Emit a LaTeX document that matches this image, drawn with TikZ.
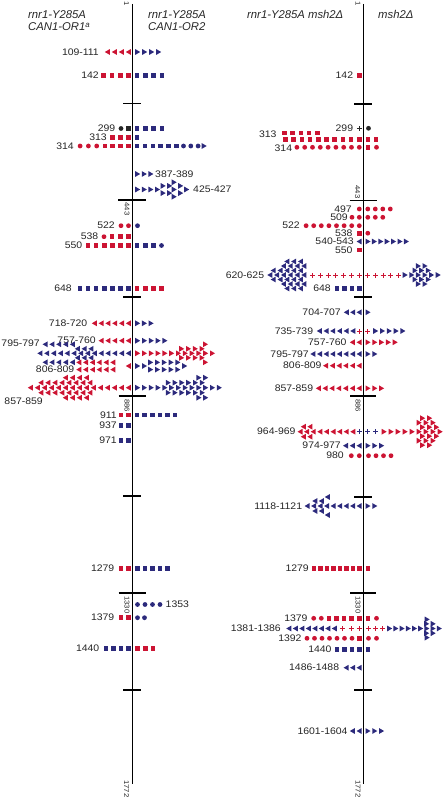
\documentclass[tikz,border=0pt]{standalone}
\usepackage{fontspec}
\setmainfont{Liberation Sans}
\newfontfamily\numfont{Liberation Sans}[FakeStretch=1.1]
\usetikzlibrary{calc}
\definecolor{cRED}{HTML}{CC1433}
\definecolor{cBLU}{HTML}{2C2A7C}
\definecolor{cDRK}{HTML}{262626}
\newcommand{\mrow}[6]{\foreach \i in {1,...,#5}{\pic[#2] at ({#3+(\i-1)*(#6)},#4) {#1};}}
\tikzset{
  mksq/.pic={\fill (-2.3pt,-2.3pt) rectangle (2.3pt,2.3pt);},
  mkci/.pic={\fill (0pt,0pt) circle (2.4pt);},
  mktl/.pic={\fill (-2.7pt,0pt) -- (2.3pt,-2.9pt) -- (2.3pt,2.9pt) -- cycle;},
  mktr/.pic={\fill (2.7pt,0pt) -- (-2.3pt,-2.9pt) -- (-2.3pt,2.9pt) -- cycle;},
  mkpl/.pic={\draw[line width=1pt] (-2.5pt,0pt) -- (2.5pt,0pt) (0pt,-2.5pt) -- (0pt,2.5pt);}
}

\begin{document}
\begin{tikzpicture}[x=1pt, y=-1pt,
  lbl/.style={font=\numfont\fontsize{9.5}{10}\selectfont, text=cDRK, inner sep=0pt, anchor=east},
  hd/.style={font=\fontsize{11.3}{13}\selectfont\itshape, text=cDRK, inner sep=0pt, anchor=base west},
  axn/.style={font=\numfont\fontsize{7}{8}\selectfont, text=cDRK, inner sep=0pt, rotate=-90},
  axl/.style={line width=1.2pt, draw=black}]
\useasboundingbox (0,0) rectangle (445,800);

\node[hd] (hA1) at (28,18.5) {rnr1-Y285A};
\node[hd] (hA2) at (28,31) {CAN1-OR1\textsuperscript{a}};
\node[hd] (hB1) at (148,18.5) {rnr1-Y285A};
\node[hd] (hB2) at (148,31) {CAN1-OR2};
\node[hd] (hC) at (247,18.5) {rnr1-Y285A msh2Δ};
\node[hd] (hD) at (378,18.5) {msh2Δ};

\draw[axl] (132.7,4) -- (132.7,784);
\draw[axl] (363.3,4) -- (363.3,784);
\foreach \yy/\ww in {103.5/9,200/14,297/9,396/13.5,496/9,593/13.5,690/9}
  \draw[axl] (132-\ww,\yy) -- (132+\ww,\yy);
\foreach \yy/\ww in {104/9,200.7/13.5,297/9,396/13,497/9,593/13,690/9}
  \draw[axl] (363-\ww,\yy) -- (363+\ww,\yy);

\node[axn, anchor=west] (l1) at (126.5,1) {1};
\node[axn, anchor=west] (l443) at (127,202.5) {443};
\node[axn, anchor=west] (l886) at (127,399) {886};
\node[axn, anchor=west] (l1330) at (127,596) {1330};
\node[axn, anchor=west] (l1772) at (126.5,780) {1772};
\node[axn, anchor=west] (r1) at (358,1) {1};
\node[axn, anchor=east] (r443) at (357.5,198.5) {443};
\node[axn, anchor=west] (r886) at (358,399) {886};
\node[axn, anchor=west] (r1330) at (358,596) {1330};
\node[axn, anchor=west] (r1772) at (358,780) {1772};

\node[lbl] (a109) at (99,52) {109-111};
\mrow{mktl}{cRED}{128.5}{52}{4}{-7}
\mrow{mktr}{cBLU}{137.5}{52}{4}{7}
\node[lbl] (a142) at (99,75.5) {142};
\mrow{mksq}{cRED}{128.5}{75.5}{4}{-8.3}
\mrow{mksq}{cBLU}{137}{75.5}{4}{8.3}
\node[lbl] (a299) at (115.5,128.5) {299};
\pic[cDRK] at (121,128.5) {mkci};
\pic[cDRK] at (128.5,128.5) {mksq};
\mrow{mksq}{cBLU}{137}{128.5}{4}{8.3}
\node[lbl] (a313) at (107,137.5) {313};
\mrow{mksq}{cRED}{128.5}{137.5}{3}{-8.1}
\pic[cBLU] at (137,137.5) {mksq};
\node[lbl] (a314) at (74,146) {314};
\mrow{mksq}{cRED}{128.5}{146}{4}{-7.9}
\mrow{mkci}{cRED}{96.7}{146}{3}{-8.3}
\mrow{mksq}{cBLU}{137}{146}{6}{7.9}
\mrow{mkci}{cBLU}{183.5}{146}{3}{7.3}
\pic[cBLU] at (204,146) {mktr};
\node[lbl, anchor=west] (a387) at (155,174) {387-389};
\mrow{mktr}{cBLU}{137.5}{174}{3}{6.6}
\node[lbl, anchor=west] (a425) at (193,189.5) {425-427};
\mrow{mktr}{cBLU}{137.5}{189.5}{4}{6.6}
\pic[cBLU] at (174,189.5) {mktr};
\pic[cBLU] at (186.5,189.5) {mktr};
\foreach \dy in {-3.6,3.6}{
  \mrow{mktr}{cBLU}{163}{189.5+\dy}{2}{6.5}
  \pic[cBLU] at (180.5,189.5+\dy) {mktr};}
\pic[cBLU] at (174,182.3) {mktr};
\pic[cBLU] at (174,196.7) {mktr};
\node[lbl] (a522) at (115,225.7) {522};
\mrow{mkci}{cRED}{128.5}{225.7}{2}{-7.5}
\pic[cBLU] at (137.5,225.7) {mkci};
\node[lbl] (a538) at (98.5,236.7) {538};
\mrow{mksq}{cRED}{128.5}{236.7}{3}{-8.2}
\pic[cRED] at (104,236.7) {mkci};
\node[lbl] (a550) at (82.5,245.5) {550};
\mrow{mksq}{cRED}{128.5}{245.5}{6}{-8.1}
\mrow{mksq}{cBLU}{137}{245.5}{3}{8.2}
\pic[cBLU] at (161.5,245.5) {mkci};
\node[lbl] (a648) at (72,288.3) {648};
\mrow{mksq}{cBLU}{128.5}{288.3}{7}{-8.1}
\mrow{mksq}{cRED}{137}{288.3}{4}{8.2}
\node[lbl] (a718) at (87.5,323.3) {718-720};
\mrow{mktl}{cRED}{128.5}{323.3}{6}{-6.8}
\mrow{mktr}{cBLU}{137.5}{323.3}{3}{6.7}
\node[lbl] (a757) at (96,340.7) {757-760};
\mrow{mktl}{cRED}{128.5}{340.7}{5}{-6.8}
\mrow{mktr}{cBLU}{137.5}{340.7}{5}{6.8}
\node[lbl] (a795) at (40,343) {795-797};
\mrow{mktl}{cBLU}{128.5}{353.3}{14}{-6.8}
\mrow{mktl}{cBLU}{91.1}{348.8}{3}{-6.8}
\mrow{mktl}{cBLU}{91.1}{357.8}{3}{-6.8}
\mrow{mktl}{cBLU}{72.5}{344.3}{5}{-6.8}
\mrow{mktl}{cBLU}{72.5}{362.3}{5}{-6.8}
\mrow{mktr}{cRED}{137.5}{353.3}{12}{6.8}
\mrow{mktr}{cRED}{181.5}{348.8}{4}{6.8}
\mrow{mktr}{cRED}{181.5}{357.8}{4}{6.8}
\pic[cRED] at (205.3,344.3) {mktr};
\pic[cRED] at (205.3,362.3) {mktr};
\node[lbl] (a806) at (74.5,369.5) {806-809};
\pic[cRED] at (128.5,366) {mktl};
\mrow{mktl}{cRED}{113}{362.4}{6}{-6.8}
\mrow{mktl}{cRED}{113}{369.6}{6}{-6.8}
\mrow{mktr}{cBLU}{137.5}{366}{2}{6.8}
\mrow{mktr}{cBLU}{150.5}{362.4}{5}{6.8}
\mrow{mktr}{cBLU}{150.5}{369.6}{5}{6.8}
\pic[cBLU] at (184.5,366) {mktr};
\node[lbl] (a857) at (43,401) {857-859};
\mrow{mktl}{cRED}{128.5}{387.7}{15}{-7}
\mrow{mktl}{cRED}{90}{382.7}{8}{-7}
\mrow{mktl}{cRED}{90}{392.7}{8}{-7}
\mrow{mktl}{cRED}{86.5}{377.7}{4}{-7}
\mrow{mktl}{cRED}{86.5}{397.7}{4}{-7}
\mrow{mktr}{cBLU}{137.5}{387.7}{13}{6.8}
\mrow{mktr}{cBLU}{168.1}{382.7}{6}{6.8}
\mrow{mktr}{cBLU}{168.1}{392.7}{6}{6.8}
\mrow{mktr}{cBLU}{198.7}{377.7}{2}{6.8}
\mrow{mktr}{cBLU}{198.7}{397.7}{2}{6.8}
\node[lbl] (a911) at (117,415) {911};
\mrow{mksq}{cRED}{128.5}{415}{2}{-7.5}
\mrow{mksq}{cBLU}{137}{415}{6}{7.6}
\node[lbl] (a937) at (117,425.7) {937};
\mrow{mksq}{cBLU}{128.5}{425.7}{2}{-7.5}
\node[lbl] (a971) at (117,440.7) {971};
\mrow{mksq}{cBLU}{128.5}{440.7}{2}{-7.5}
\node[lbl] (a1279) at (114.5,568.3) {1279};
\mrow{mksq}{cRED}{128.5}{568.3}{2}{-7.5}
\mrow{mksq}{cBLU}{137.5}{568.3}{5}{7.5}
\node[lbl, anchor=west] (a1353) at (165.5,604.5) {1353};
\mrow{mkci}{cBLU}{137.5}{604.5}{4}{7.5}
\node[lbl] (a1379) at (114.5,617.7) {1379};
\mrow{mksq}{cRED}{128.5}{617.7}{2}{-7.5}
\mrow{mkci}{cBLU}{137.5}{617.7}{2}{7}
\node[lbl] (a1440) at (99.5,648.3) {1440};
\mrow{mksq}{cBLU}{128.5}{648.3}{4}{-7.5}
\mrow{mksq}{cRED}{137.5}{648.3}{3}{7.8}

\node[lbl] (b142) at (353.3,75.3) {142};
\pic[cRED] at (359.3,75.3) {mksq};
\node[lbl] (b299) at (353.3,128.3) {299};
\pic[cDRK] at (359.3,128.3) {mkpl};
\pic[cDRK] at (368.5,128.3) {mkci};
\node[lbl] (b313) at (276.7,134) {313};
\mrow{mksq}{cRED}{317.3}{133}{5}{-8.2}
\mrow{mksq}{cRED}{359.3}{139.5}{10}{-8.2}
\mrow{mksq}{cRED}{367.8}{139.5}{2}{8.2}
\node[lbl] (b314) at (292.3,148.5) {314};
\mrow{mkci}{cRED}{359.3}{147.3}{9}{-7.8}
\pic[cRED] at (367.8,147.3) {mksq};
\pic[cRED] at (376.5,147.3) {mkci};
\node[lbl] (b497) at (352,209) {497};
\pic[cRED] at (359.3,209) {mkci};
\mrow{mkci}{cRED}{367.8}{209}{4}{7.5}
\node[lbl] (b509) at (348,217.3) {509};
\mrow{mkci}{cRED}{359.3}{217.3}{2}{-7.3}
\mrow{mkci}{cRED}{367.8}{217.3}{3}{7.5}
\node[lbl] (b522) at (300,225.7) {522};
\mrow{mkci}{cRED}{359.3}{225.7}{8}{-7.6}
\node[lbl] (b538) at (352.7,233.2) {538};
\pic[cRED] at (359.3,233.2) {mksq};
\pic[cRED] at (367.8,233.2) {mkci};
\node[lbl] (b540) at (354,241.5) {540-543};
\pic[cBLU] at (359.3,241.5) {mktl};
\mrow{mktr}{cBLU}{367.8}{241.5}{7}{6.4}
\node[lbl] (b550) at (352.7,249.8) {550};
\pic[cRED] at (359.3,249.8) {mksq};
\node[lbl] (b620) at (264.3,275) {620-625};
\mrow{mktl}{cBLU}{304}{275}{6}{-6.8}
\mrow{mktl}{cBLU}{300.6}{270.5}{5}{-6.8}
\mrow{mktl}{cBLU}{300.6}{279.5}{5}{-6.8}
\mrow{mktl}{cBLU}{304}{266}{4}{-6.8}
\mrow{mktl}{cBLU}{304}{284}{4}{-6.8}
\mrow{mktl}{cBLU}{300.6}{261.5}{3}{-6.8}
\mrow{mktl}{cBLU}{300.6}{288.5}{3}{-6.8}
\mrow{mkpl}{cRED}{359.3}{275}{7}{-7.8}
\mrow{mkpl}{cRED}{367.8}{275}{5}{7.7}
\mrow{mktr}{cBLU}{405}{275}{6}{6.6}
\mrow{mktr}{cBLU}{414.9}{270.5}{3}{6.6}
\mrow{mktr}{cBLU}{414.9}{279.5}{3}{6.6}
\mrow{mktr}{cBLU}{418.2}{266}{2}{6.6}
\mrow{mktr}{cBLU}{418.2}{284}{2}{6.6}
\node[lbl] (b648) at (331,288.3) {648};
\mrow{mksq}{cBLU}{359.3}{288.3}{4}{-7.4}
\node[lbl] (b704) at (341,312.3) {704-707};
\mrow{mktl}{cBLU}{359.3}{312.3}{3}{-6.4}
\pic[cBLU] at (367.8,312.3) {mktr};
\node[lbl] (b735) at (313.3,331) {735-739};
\mrow{mktl}{cBLU}{353}{331}{6}{-6.7}
\pic[cRED] at (359.3,331) {mkpl};
\pic[cRED] at (367.8,331) {mkpl};
\mrow{mktr}{cBLU}{375.5}{331}{5}{6.8}
\node[lbl] (b757) at (346.7,342.3) {757-760};
\mrow{mktl}{cRED}{359.3}{342.3}{2}{-6.8}
\mrow{mktr}{cRED}{367.8}{342.3}{5}{6.8}
\node[lbl] (b795) at (309,354) {795-797};
\mrow{mktl}{cBLU}{359.3}{354}{8}{-6.6}
\mrow{mktr}{cBLU}{367.8}{354}{2}{6.8}
\node[lbl] (b806) at (321.7,365.7) {806-809};
\mrow{mktl}{cRED}{359.3}{365.7}{6}{-6.7}
\node[lbl] (b857) at (313.3,388.3) {857-859};
\mrow{mktl}{cRED}{359.3}{388.3}{7}{-6.8}
\mrow{mktr}{cRED}{367.8}{388.3}{3}{6.8}
\node[lbl] (b964) at (295.7,431.7) {964-969};
\pic[cBLU] at (359.3,431.7) {mkpl};
\mrow{mktl}{cRED}{353}{431.7}{9}{-6.6}
\mrow{mktl}{cRED}{310.1}{426.7}{2}{-6.6}
\mrow{mktl}{cRED}{310.1}{436.7}{2}{-6.6}
\mrow{mkpl}{cBLU}{367.8}{431.7}{2}{8}
\mrow{mktr}{cRED}{384}{431.7}{9}{7}
\mrow{mktr}{cRED}{422.5}{427.2}{3}{7}
\mrow{mktr}{cRED}{422.5}{436.2}{3}{7}
\mrow{mktr}{cRED}{419}{422.7}{3}{7}
\mrow{mktr}{cRED}{419}{440.7}{3}{7}
\mrow{mktr}{cRED}{422.5}{418.2}{2}{7}
\mrow{mktr}{cRED}{422.5}{445.2}{2}{7}
\node[lbl] (b974) at (341,445.7) {974-977};
\mrow{mktl}{cBLU}{359.3}{445.7}{3}{-6.8}
\mrow{mktr}{cBLU}{367.8}{445.7}{3}{6.8}
\node[lbl] (b980) at (344,455.7) {980};
\mrow{mkci}{cRED}{359.3}{455.7}{2}{-8}
\mrow{mkci}{cRED}{368.5}{455.7}{4}{7.5}
\node[lbl] (b1118) at (302.3,506) {1118-1121};
\mrow{mktl}{cBLU}{359.3}{506}{9}{-6.5}
\mrow{mktl}{cBLU}{321.5}{501}{2}{-6.5}
\mrow{mktl}{cBLU}{321.5}{511}{2}{-6.5}
\pic[cBLU] at (327.5,497) {mktl};
\pic[cBLU] at (327.5,515) {mktl};
\mrow{mktr}{cBLU}{367.8}{506}{2}{6.8}
\node[lbl] (b1279) at (309,568.3) {1279};
\mrow{mksq}{cRED}{359.3}{568.3}{8}{-6.5}
\pic[cRED] at (367.8,568.3) {mksq};
\node[lbl] (b1379) at (307.7,618.3) {1379};
\mrow{mksq}{cRED}{359.3}{618.3}{5}{-7.6}
\mrow{mkci}{cRED}{321.3}{618.3}{2}{-7.6}
\pic[cRED] at (367.8,618.3) {mksq};
\pic[cRED] at (376.5,618.3) {mkci};
\node[lbl] (b1381) at (281,628.5) {1381-1386};
\mrow{mkpl}{cRED}{359.3}{628.5}{3}{-8.2}
\mrow{mktl}{cBLU}{334.5}{628.5}{8}{-6.5}
\mrow{mkpl}{cRED}{368.5}{628.5}{3}{7}
\mrow{mktr}{cBLU}{389.5}{628.5}{9}{6.2}
\mrow{mktr}{cBLU}{426.5}{623.8}{2}{6.5}
\mrow{mktr}{cBLU}{426.5}{633.2}{2}{6.5}
\pic[cBLU] at (427,619.4) {mktr};
\pic[cBLU] at (427,637.6) {mktr};
\node[lbl] (b1392) at (301.7,638.3) {1392};
\mrow{mkci}{cRED}{352}{638.3}{7}{-7.5}
\pic[cRED] at (359.3,638.3) {mksq};
\mrow{mkci}{cRED}{368.5}{638.3}{2}{8}
\node[lbl] (b1440) at (331.7,649.3) {1440};
\mrow{mksq}{cBLU}{359.3}{649.3}{4}{-7.5}
\pic[cBLU] at (367.8,649.3) {mksq};
\node[lbl] (b1486) at (339.3,667.7) {1486-1488};
\mrow{mktl}{cBLU}{359.3}{667.7}{3}{-6.5}
\node[lbl] (b1601) at (347.7,731) {1601-1604};
\mrow{mktl}{cBLU}{359.3}{731}{2}{-6.8}
\mrow{mktr}{cBLU}{367.8}{731}{3}{6.8}
\end{tikzpicture}
\end{document}
